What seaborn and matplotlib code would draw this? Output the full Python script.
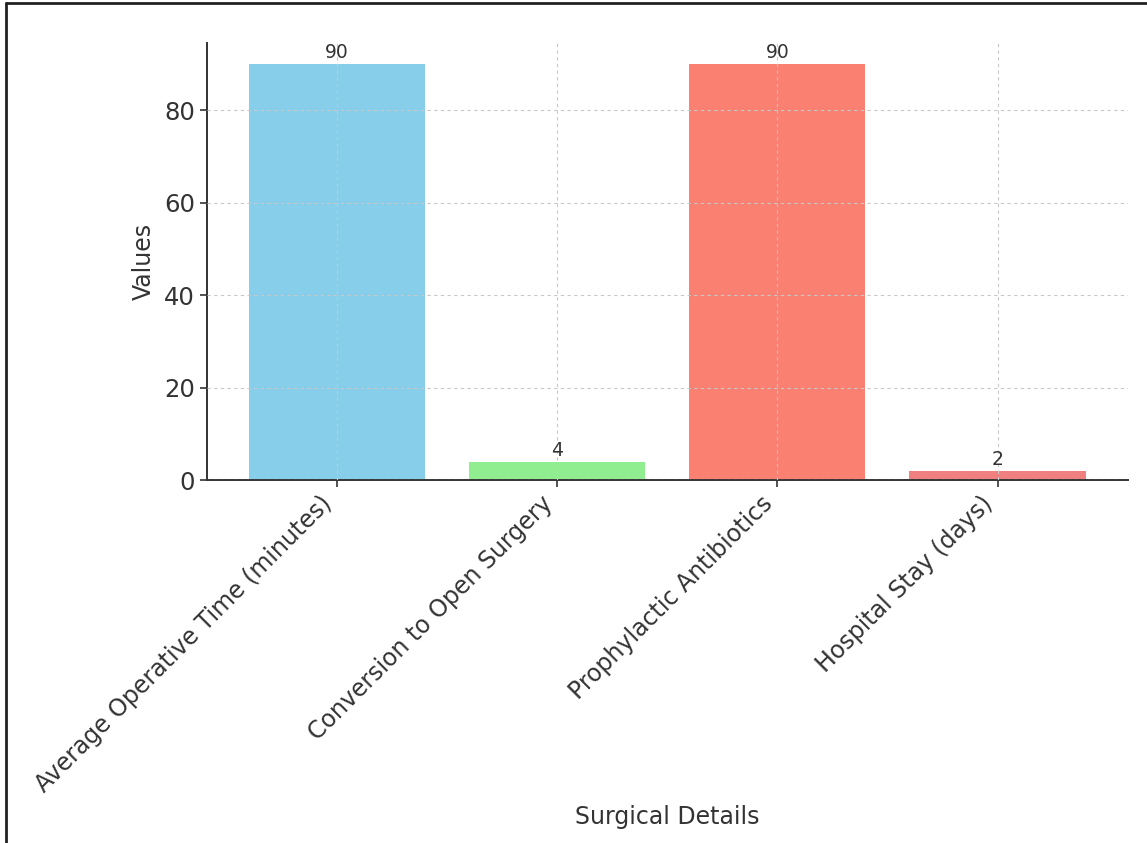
import matplotlib
matplotlib.use("Agg")
import matplotlib.pyplot as plt
from matplotlib.lines import Line2D
import pandas as pd
import seaborn as sns

categories = [
    "Average Operative Time (minutes)",
    "Conversion to Open Surgery",
    "Prophylactic Antibiotics",
    "Hospital Stay (days)",
]
values = [90, 4, 90, 2]
bar_colors = ["#87CEEB", "#90EE90", "#FA8072", "#F08080"]
y_ticks = [0, 20, 40, 60, 80]

sns.set_theme(style="ticks")
plt.rcParams["font.family"] = ["DejaVu Sans"]

df = pd.DataFrame({"detail": categories, "value": values})

fig = plt.figure(figsize=(11.47, 8.43), dpi=100)
ax = fig.add_axes([0.1805, 0.4306, 0.8025, 0.5184])

sns.barplot(
    data=df, x="detail", y="value", hue="detail", palette=bar_colors,
    saturation=1, width=0.8, legend=False, ax=ax, linewidth=0,
)
ax.set_xlim(-0.59, 3.59)
ax.set_ylim(0, 94.5)
ax.set_yticks(y_ticks)

for container in ax.containers:
    ax.bar_label(container, fmt="%g", fontsize=13.5, color="#333333", padding=1)

ax.grid(True, linestyle=(0, (3, 3)), color="#c8c8c8", linewidth=0.8)
ax.set_axisbelow(False)

for side in ("top", "right"):
    ax.spines[side].set_visible(False)
for side in ("left", "bottom"):
    ax.spines[side].set_color("#333333")
    ax.spines[side].set_linewidth(1.4)

ax.tick_params(axis="y", labelsize=17.5, colors="#333333", length=5, width=1.2)
ax.tick_params(axis="x", labelsize=17, colors="#333333", length=5, width=1.2)
plt.setp(ax.get_xticklabels(), rotation=45, ha="right")

ax.set_xlabel("Surgical Details", fontsize=17, color="#333333")
ax.set_ylabel("Values", fontsize=17, color="#333333")
ax.xaxis.set_label_coords(0.5, -0.743)
ax.yaxis.set_label_coords(-0.056, 0.5)

# Frame lines along the top and left edges of the figure
fig.add_artist(Line2D([0.0055, 1.0], [0.9962, 0.9962], transform=fig.transFigure,
                      color="#222222", linewidth=2))
fig.add_artist(Line2D([0.0055, 0.0055], [0.0, 0.9962], transform=fig.transFigure,
                      color="#222222", linewidth=2))

fig.savefig("out.png", dpi=100, facecolor="white")
